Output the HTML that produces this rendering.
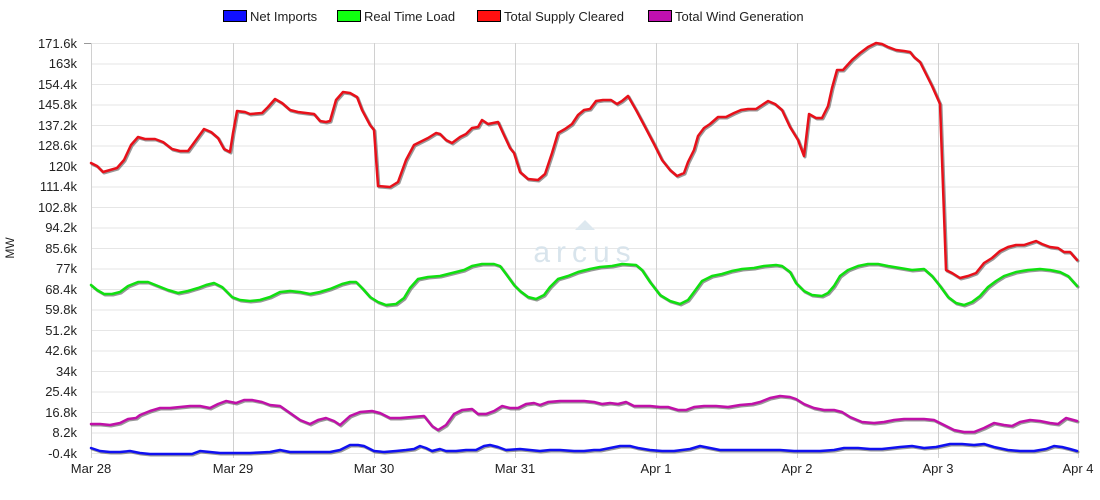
<!DOCTYPE html>
<html><head><style>body{margin:0;background:#fff}svg{display:block;font-family:"Liberation Sans",Arial,sans-serif}</style></head><body>
<svg width="1100" height="500" xmlns="http://www.w3.org/2000/svg">
<g stroke="#e6e6e6" stroke-width="1">
<line x1="91" x2="1078" y1="43.5" y2="43.5"/><line x1="91" x2="1078" y1="64" y2="64"/><line x1="91" x2="1078" y1="84.5" y2="84.5"/><line x1="91" x2="1078" y1="105" y2="105"/><line x1="91" x2="1078" y1="125.5" y2="125.5"/><line x1="91" x2="1078" y1="146" y2="146"/><line x1="91" x2="1078" y1="166.5" y2="166.5"/><line x1="91" x2="1078" y1="187" y2="187"/><line x1="91" x2="1078" y1="207.5" y2="207.5"/><line x1="91" x2="1078" y1="228" y2="228"/><line x1="91" x2="1078" y1="248.5" y2="248.5"/><line x1="91" x2="1078" y1="269" y2="269"/><line x1="91" x2="1078" y1="289.5" y2="289.5"/><line x1="91" x2="1078" y1="310" y2="310"/><line x1="91" x2="1078" y1="330.5" y2="330.5"/><line x1="91" x2="1078" y1="351" y2="351"/><line x1="91" x2="1078" y1="371.5" y2="371.5"/><line x1="91" x2="1078" y1="392" y2="392"/><line x1="91" x2="1078" y1="412.5" y2="412.5"/><line x1="91" x2="1078" y1="433" y2="433"/><line x1="91" x2="1078" y1="453.5" y2="453.5"/>
</g>
<g stroke="#d0d0d0" stroke-width="1">
<line x1="91.5" x2="91.5" y1="43" y2="458"/><line x1="233.5" x2="233.5" y1="43" y2="458"/><line x1="374.5" x2="374.5" y1="43" y2="458"/><line x1="515.5" x2="515.5" y1="43" y2="458"/><line x1="656.5" x2="656.5" y1="43" y2="458"/><line x1="797.5" x2="797.5" y1="43" y2="458"/><line x1="938.5" x2="938.5" y1="43" y2="458"/><line x1="1078.5" x2="1078.5" y1="43" y2="458"/>
</g>
<g stroke="#999" stroke-width="1"><line x1="84" x2="91" y1="43.5" y2="43.5"/></g>
<text x="585" y="262" font-size="30" fill="#d8e4ec" text-anchor="middle" letter-spacing="6">arcus</text>
<polygon points="575,230 585,220 595,230" fill="#dde8ef"/>
<g font-size="13" fill="#222" text-anchor="end">
<text x="77" y="48">171.6k</text><text x="77" y="68">163k</text><text x="77" y="89">154.4k</text><text x="77" y="109">145.8k</text><text x="77" y="130">137.2k</text><text x="77" y="150">128.6k</text><text x="77" y="171">120k</text><text x="77" y="191">111.4k</text><text x="77" y="212">102.8k</text><text x="77" y="232">94.2k</text><text x="77" y="253">85.6k</text><text x="77" y="273">77k</text><text x="77" y="294">68.4k</text><text x="77" y="314">59.8k</text><text x="77" y="335">51.2k</text><text x="77" y="355">42.6k</text><text x="77" y="376">34k</text><text x="77" y="396">25.4k</text><text x="77" y="417">16.8k</text><text x="77" y="437">8.2k</text><text x="77" y="458">-0.4k</text>
</g>
<g font-size="13" fill="#222" text-anchor="middle">
<text x="91" y="473">Mar 28</text><text x="233" y="473">Mar 29</text><text x="374" y="473">Mar 30</text><text x="515" y="473">Mar 31</text><text x="656" y="473">Apr 1</text><text x="797" y="473">Apr 2</text><text x="938" y="473">Apr 3</text><text x="1078" y="473">Apr 4</text>
</g>
<text x="14" y="248" font-size="12" fill="#222" text-anchor="middle" transform="rotate(-90 14 248)">MW</text>
<g font-size="13" fill="#222">
<rect x="223.5" y="10.5" width="23" height="11" fill="#1010ff" stroke="#000"/><text x="250" y="21">Net Imports</text>
<rect x="337.5" y="10.5" width="23" height="11" fill="#10ff10" stroke="#000"/><text x="364" y="21">Real Time Load</text>
<rect x="477.5" y="10.5" width="23" height="11" fill="#ff1010" stroke="#000"/><text x="504" y="21">Total Supply Cleared</text>
<rect x="648.5" y="10.5" width="23" height="11" fill="#c010b0" stroke="#000"/><text x="675" y="21">Total Wind Generation</text>
</g>
<defs>
<polyline id="r" points="91,163 97,166 103,172 110,170 117,168 124,160 131,145 138,137 145,139 155,139 163,142 172,149 180,151 188,151 196,140 204,129 211,132 218,138 224,149 230,152 233,133 237,111 245,112 250,114 262,113 268,107 275,99 282,103 290,110 298,112 306,113 314,114 320,121 326,122 330,121 336,100 343,92 350,93 357,97 362,110 370,125 374,130 378,186 390,187 398,182 406,160 414,145 420,142 428,138 436,133 440,134 446,140 452,143 460,137 466,134 472,128 478,127 482,120 488,124 498,122 503,133 510,148 514,153 520,172 528,179 538,180 545,174 552,153 558,133 565,129 572,124 578,115 584,110 590,109 596,101 603,100 611,100 617,104 622,101 628,96 636,110 644,125 654,144 662,160 670,170 677,176 684,173 688,162 694,150 698,136 704,128 710,124 718,117 726,117 734,113 741,110 748,109 756,109 762,105 768,101 775,104 782,110 790,127 798,140 804,156 809,114 816,118 822,118 828,106 832,88 837,70 843,70 852,60 860,53 868,47 876,43 882,44 888,47 896,50 904,51 910,52 914,57 920,62 924,70 932,86 940,104 946,270 952,273 960,278 968,276 976,273 984,263 992,258 1000,251 1008,247 1016,245 1024,245 1030,243 1036,241 1042,244 1050,247 1058,248 1064,252 1070,252 1077,260"/>
<polyline id="g" points="91,285 97,290 104,294 112,294 120,292 128,286 138,282 148,282 158,286 168,290 178,293 188,291 198,288 206,285 214,283 222,287 232,297 240,300 250,301 260,300 270,297 280,292 290,291 300,292 310,294 320,292 330,289 342,284 350,282 356,282 362,288 370,297 378,302 386,305 396,304 404,298 410,288 418,279 428,277 440,276 448,274 456,272 464,270 472,266 482,264 494,264 500,266 506,274 514,285 520,291 528,297 536,299 544,295 550,287 558,279 568,276 578,272 590,269 600,267 612,266 622,264 636,265 642,270 650,282 660,295 670,301 680,304 688,300 694,292 702,281 712,276 722,274 732,271 742,269 754,268 764,266 776,265 782,266 790,272 796,283 804,291 812,295 822,296 828,293 834,286 840,276 848,270 858,266 868,264 878,264 888,266 900,268 912,270 924,269 932,276 940,286 948,297 956,303 964,305 972,302 980,296 988,287 996,281 1004,276 1016,272 1028,270 1040,269 1050,270 1060,272 1068,276 1077,286"/>
<polyline id="m" points="91,424 100,424 110,425 120,423 128,419 136,418 140,415 150,411 160,408 170,408 180,407 190,406 200,406 210,408 218,404 226,401 236,403 244,400 252,400 262,402 270,405 280,406 290,413 300,420 310,424 318,420 326,418 334,421 340,425 350,416 360,412 372,411 380,413 390,418 400,418 412,417 424,416 432,426 438,430 446,425 454,414 462,410 472,409 478,414 486,414 494,411 502,406 510,408 518,408 526,404 534,403 540,405 548,402 560,401 572,401 584,401 594,402 602,404 610,403 618,404 626,402 634,406 642,406 650,406 660,407 668,407 678,410 686,410 694,407 704,406 716,406 728,407 740,405 752,404 760,402 770,398 780,396 790,397 796,399 804,404 814,408 824,410 834,410 842,412 850,417 862,422 874,423 884,422 894,420 904,419 914,419 924,419 934,420 944,425 954,430 964,432 974,432 984,428 994,423 1004,425 1012,426 1020,422 1030,420 1040,421 1050,423 1058,424 1066,418 1077,421"/>
<polyline id="b" points="91,448 100,451 110,452 120,452 130,451 140,453 150,454 160,454 170,454 180,454 192,454 200,451 210,452 220,453 232,453 250,453 270,452 280,450 290,452 310,452 330,452 340,450 350,445 358,445 364,446 370,449 374,451 384,452 396,451 406,450 414,449 420,446 426,448 432,451 440,449 446,451 456,451 466,450 476,450 484,446 490,445 498,447 506,450 520,449 530,450 540,451 550,450 560,450 574,451 584,451 594,450 600,450 610,448 620,446 630,446 638,448 650,450 662,451 674,451 690,449 700,446 710,448 720,450 740,450 760,450 780,450 794,451 808,451 820,451 834,450 844,448 858,448 870,449 882,449 900,447 912,446 924,448 936,447 950,444 962,444 974,445 984,444 994,447 1008,450 1020,451 1034,451 1046,449 1054,446 1062,447 1070,449 1077,451"/>
</defs>
<g fill="none" stroke-linejoin="round" stroke-linecap="round">
<g stroke="#555" stroke-width="3" opacity="0.6" transform="translate(1,1)"><use href="#r"/><use href="#g"/><use href="#m"/><use href="#b"/></g>
<use href="#r" stroke="#e8101a" stroke-width="2.5"/>
<use href="#g" stroke="#10e010" stroke-width="2.5"/>
<use href="#m" stroke="#c010a8" stroke-width="2.5"/>
<use href="#b" stroke="#1010f0" stroke-width="2.5"/>
</g>
</svg>
</body></html>
